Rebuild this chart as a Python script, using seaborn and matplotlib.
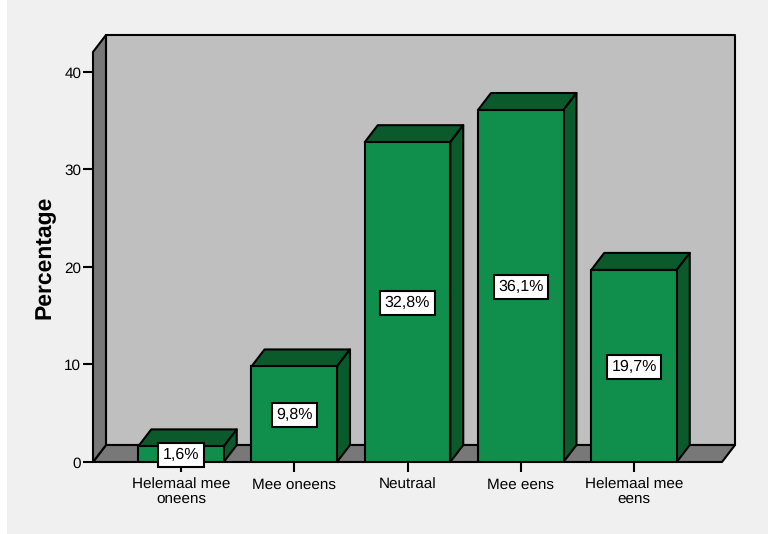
import matplotlib
matplotlib.use("Agg")
import matplotlib.pyplot as plt
from matplotlib.patches import Polygon, Rectangle
import seaborn as sns

categories = ["Helemaal mee\noneens", "Mee oneens", "Neutraal", "Mee eens", "Helemaal mee\neens"]
percentages = [1.6, 9.8, 32.8, 36.1, 19.7]
value_labels = ["1,6%", "9,8%", "32,8%", "36,1%", "19,7%"]
y_ticks = [0, 10, 20, 30, 40]

FONT = "Liberation Sans"
BACKGROUND = "#f0f0f0"
BACK_WALL = "#bfbfbf"
SIDE_WALL = "#787878"
BAR_FRONT = "#0f8f4b"
BAR_SHADE = "#0a5a2c"
LINE = 1.5

sns.set_theme(style="white")
plt.rcParams["font.family"] = [FONT, "DejaVu Sans"]
plt.rcParams["text.hinting"] = "no_hinting"

fig = plt.figure(figsize=(7.68, 5.34), dpi=100, facecolor=BACKGROUND)
ax = fig.add_axes([93 / 768, 72 / 534, 629 / 768, 410 / 534])
ax.patch.set_visible(False)

# White strip along the left edge of the canvas
fig.add_artist(Rectangle((0, 0), 7 / 768, 1, transform=fig.transFigure,
                         facecolor="white", edgecolor="none"))

bar_width = 0.755
sns.barplot(x=categories, y=percentages, ax=ax, width=bar_width, color=BAR_FRONT,
            saturation=1, edgecolor="black", linewidth=LINE, zorder=5)

x0, x1 = -0.777, 4.777
y0, y1 = 0, 42.05
ax.set_xlim(x0, x1)
ax.set_ylim(y0, y1)

# Oblique depth of the pseudo-3D box, in data units
dx = 13 / 113.25
dy = 17 / 9.75


def face(points, color, zorder):
    ax.add_patch(Polygon(points, closed=True, facecolor=color, edgecolor="black",
                         linewidth=LINE, joinstyle="round", clip_on=False, zorder=zorder))


# Box walls and floor
face([(x0 + dx, y0 + dy), (x1 + dx, y0 + dy), (x1 + dx, y1 + dy), (x0 + dx, y1 + dy)], BACK_WALL, 1)
face([(x0, y0), (x1, y0), (x1 + dx, y0 + dy), (x0 + dx, y0 + dy)], SIDE_WALL, 2)
face([(x0, y0), (x0 + dx, y0 + dy), (x0 + dx, y1 + dy), (x0, y1)], SIDE_WALL, 2)

# Top and right faces of each bar
for i, value in enumerate(percentages):
    left, right = i - bar_width / 2, i + bar_width / 2
    face([(left, value), (right, value), (right + dx, value + dy), (left + dx, value + dy)], BAR_SHADE, 3)
    face([(right, 0), (right + dx, dy), (right + dx, value + dy), (right, value)], BAR_SHADE, 3)

# Value boxes centred on each bar front
for i, (value, label) in enumerate(zip(percentages, value_labels)):
    ax.annotate(label, xy=(i, value / 2), xytext=(0, -0.7), textcoords="offset points",
                ha="center", va="center", fontsize=11.5, color="black", family=FONT,
                zorder=10, annotation_clip=False,
                bbox=dict(boxstyle="square,pad=0.27", facecolor="white", edgecolor="black", linewidth=LINE))

sns.despine(ax=ax, left=True, bottom=True, right=True, top=True)
ax.set_yticks(y_ticks)
ax.tick_params(axis="both", which="major", length=7.5, width=LINE, color="black",
               labelsize=11, labelcolor="black", left=True, bottom=True)
ax.tick_params(axis="y", pad=1)
ax.tick_params(axis="x", pad=3.7)
for tick_label in ax.get_xticklabels():
    tick_label.set_linespacing(1.05)
ax.set_ylabel("Percentage", fontsize=16.5, fontweight="bold", color="black", family=FONT)
ax.yaxis.set_label_coords(55 / 768, (534 - 257.5) / 534, transform=fig.transFigure)

fig.savefig("out.png", dpi=100, facecolor=BACKGROUND)
